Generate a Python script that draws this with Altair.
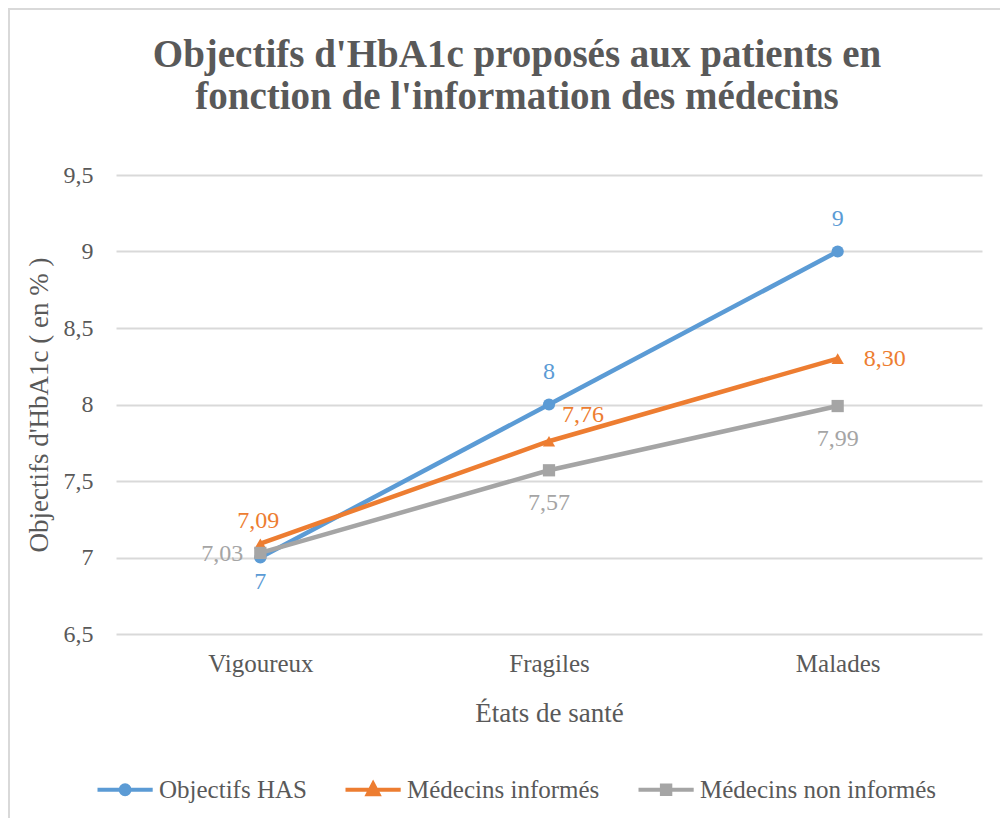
import altair as alt
import pandas as pd

categories = ["Vigoureux", "Fragiles", "Malades"]
series_names = ["Objectifs HAS", "Médecins informés", "Médecins non informés"]
has_values = [7, 8, 9]
informed_values = [7.09, 7.76, 8.30]
uninformed_values = [7.03, 7.57, 7.99]
has_labels = ["7", "8", "9"]
informed_labels = ["7,09", "7,76", "8,30"]
uninformed_labels = ["7,03", "7,57", "7,99"]
y_ticks = [6.5, 7, 7.5, 8, 8.5, 9, 9.5]

colors = ["#5B9BD5", "#ED7D31", "#A5A5A5"]
shapes = ["circle", "triangle-up", "square"]
FONT = "Liberation Serif"
TXT = "#595959"

rows = []
for s, vals, labs in zip(series_names,
                         [has_values, informed_values, uninformed_values],
                         [has_labels, informed_labels, uninformed_labels]):
    for c, v, l in zip(categories, vals, labs):
        rows.append({"serie": s, "etat": c, "valeur": v, "label": l})
df = pd.DataFrame(rows)

x_scale = alt.Scale(type="point", padding=0.5, domain=categories)
x_axis = alt.Axis(title="États de santé", labelAngle=0, domain=False, ticks=False,
                  grid=False, labelFont=FONT, labelFontSize=25, labelColor=TXT,
                  labelPadding=17, titleFont=FONT, titleFontSize=27,
                  titleFontWeight="normal", titleColor=TXT, titlePadding=24)
y_scale = alt.Scale(domain=[6.5, 9.5], nice=False, zero=False)
y_axis = alt.Axis(values=y_ticks, title="Objectifs d'HbA1c ( en % )",
                  labelExpr="replace(toString(datum.value), '.', ',')",
                  domain=False, ticks=False, grid=True, gridColor="#D9D9D9",
                  gridWidth=2, labelFont=FONT, labelFontSize=24, labelColor=TXT,
                  labelPadding=23, titleFont=FONT, titleFontSize=27,
                  titleFontWeight="normal", titleColor=TXT, titlePadding=10)


def X():
    return alt.X("etat:N", sort=categories, scale=x_scale, axis=x_axis)


def Y():
    return alt.Y("valeur:Q", scale=y_scale, axis=y_axis)


base = alt.Chart(df)

frame = alt.Chart(pd.DataFrame({"k": [0]})).mark_rect(
    fillOpacity=0, stroke="#D9D9D9", strokeWidth=2
).encode(x=alt.value(-107), x2=alt.value(1100), y=alt.value(-166), y2=alt.value(900))

layers = [frame]
for s, col, shp in zip(series_names, colors, shapes):
    sub = base.transform_filter(alt.datum.serie == s)
    line = sub.mark_line(strokeWidth=4.5, color=col).encode(x=X(), y=Y())
    pts = sub.mark_point(filled=True, size=150, opacity=1, shape=shp, color=col).encode(
        x=X(), y=Y())
    layers += [line, pts]

# legend symbols: line segment + marker (unit = sqrt(size)/2 = 6px)
leg_paths = [
    "M-1,0H8.2M2.85,0A0.75,0.75,0,1,1,4.35,0A0.75,0.75,0,1,1,2.85,0Z",
    "M-1,0H8.2M3.6,-1L4.5,0.75L2.7,0.75Z",
    "M-1,0H8.2M2.9,-0.7H4.3V0.7H2.9Z",
]
legend_props = dict(title=None, orient="none", direction="horizontal", legendX=-25, legendY=602,
                    labelFont=FONT, labelFontSize=25, labelColor=TXT, labelOffset=43,
                    columnPadding=30, symbolSize=144, symbolOpacity=1, symbolStrokeWidth=4,
                    labelLimit=0)
legend_layer = base.mark_point(opacity=0).encode(
    x=X(), y=Y(),
    fill=alt.Fill("serie:N", sort=series_names,
                  scale=alt.Scale(domain=series_names, range=colors),
                  legend=alt.Legend(**legend_props)),
    stroke=alt.Stroke("serie:N", sort=series_names,
                      scale=alt.Scale(domain=series_names, range=colors),
                      legend=alt.Legend(**legend_props)),
    shape=alt.Shape("serie:N", sort=series_names,
                    scale=alt.Scale(domain=series_names, range=leg_paths),
                    legend=alt.Legend(**legend_props)),
)
layers.append(legend_layer)

# data labels
placements = [
    ("(datum.serie == 'Objectifs HAS' && datum.etat != 'Vigoureux')", 0, -33, "center", "#5B9BD5"),
    ("(datum.serie == 'Objectifs HAS' && datum.etat == 'Vigoureux')", 0, 24, "center", "#5B9BD5"),
    ("(datum.serie == 'Médecins informés' && datum.etat == 'Vigoureux')", -2, -23, "center", "#ED7D31"),
    ("(datum.serie == 'Médecins informés' && datum.etat == 'Fragiles')", 34, -26, "center", "#ED7D31"),
    ("(datum.serie == 'Médecins informés' && datum.etat == 'Malades')", 26, 0, "left", "#ED7D31"),
    ("(datum.serie == 'Médecins non informés' && datum.etat == 'Vigoureux')", -17, 1, "right", "#A5A5A5"),
    ("(datum.serie == 'Médecins non informés' && datum.etat != 'Vigoureux')", 0, 33, "center", "#A5A5A5"),
]
for cond, dx, dy, al, col in placements:
    layers.append(
        base.transform_filter(cond).mark_text(
            font=FONT, fontSize=24, color=col, dx=dx, dy=dy, align=al, baseline="middle"
        ).encode(x=X(), y=Y(), text="label:N")
    )

chart = alt.layer(*layers).properties(
    width=866, height=459,
    title=alt.TitleParams(
        text=["Objectifs d'HbA1c proposés aux patients en", "fonction de l'information des médecins"],
        font=FONT, fontSize=39, fontWeight="bold", color=TXT, anchor="middle",
        frame="group", lineHeight=42, offset=-109, dx=-32),
    autosize=alt.AutoSizeParams(type="none"),
    padding={"left": 108, "top": 167, "right": 18, "bottom": 184},
).configure_view(stroke=None).configure_legend(labelFont=FONT, labelFontSize=25, labelColor=TXT)

chart.save("out.html", embed_options={"renderer": "svg", "actions": False})
